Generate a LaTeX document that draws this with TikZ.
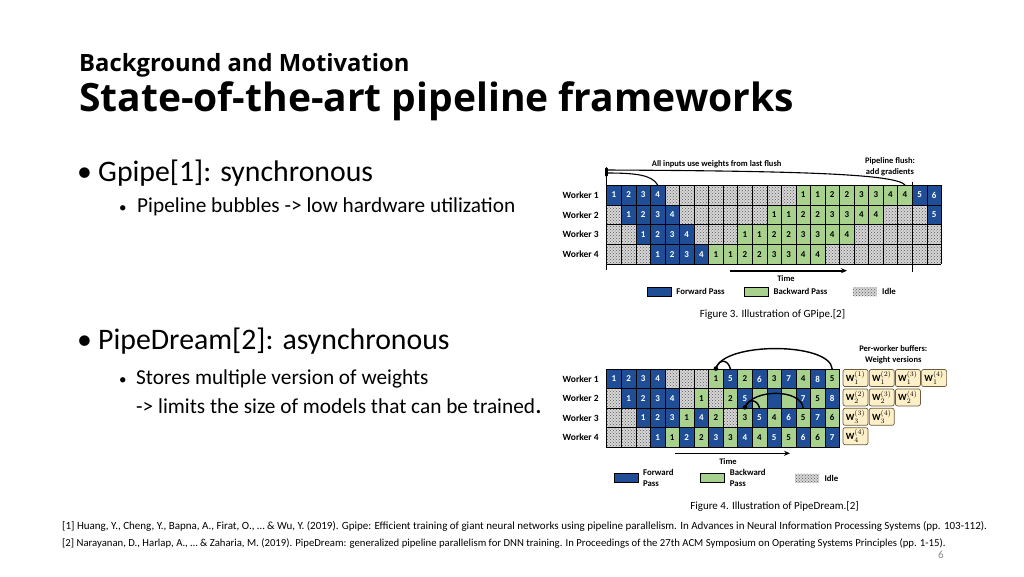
\documentclass[tikz,border=0pt]{standalone}
\usepackage{fontspec}
\setmainfont{Carlito}
\newfontfamily\headfont{Open Sans}
\usepackage{tikz}
\usetikzlibrary{positioning, arrows.meta, patterns, calc}

\definecolor{fwdblue}{HTML}{1F4E96}
\definecolor{bwdgreen}{HTML}{A9D18E}
\definecolor{idlegray}{HTML}{D6D6D6}
\definecolor{buffill}{HTML}{FDF0C9}
\definecolor{bufdraw}{HTML}{6B5B3A}
\definecolor{pagegray}{HTML}{8C8C8C}

\begin{document}
\begin{tikzpicture}[x=1pt, y=1pt,
        subhead/.style={font=\headfont\bfseries\fontsize{23.8}{28}\selectfont, inner sep=0pt, anchor=base west},
        mainhead/.style={font=\headfont\bfseries\fontsize{39}{44}\selectfont, inner sep=0pt, anchor=base west},
        bulletone/.style={font=\fontsize{29.8}{34}\selectfont, inner sep=0pt, anchor=base west},
        bullettwo/.style={font=\fontsize{21.3}{25}\selectfont, inner sep=0pt, anchor=base west},
        gcell/.style={draw=black, line width=0.5pt, minimum width=14.55pt, minimum height=19.7pt, inner sep=0pt, font=\bfseries\fontsize{9}{9}\selectfont},
        pcell/.style={gcell, minimum height=19.4pt},
        fwdcell/.style={fill=fwdblue, text=white},
        bwdcell/.style={fill=bwdgreen, text=black},
        idlecell/.style={preaction={fill=idlegray}, pattern=crosshatch dots, pattern color=black!65},
        worker/.style={font=\bfseries\fontsize{9.5}{9.5}\selectfont, inner sep=0pt, anchor=east},
        figlabel/.style={font=\bfseries\fontsize{8.5}{11}\selectfont, inner sep=0pt, align=center},
        legbox/.style={draw=black, line width=0.4pt, minimum width=24pt, minimum height=9pt, inner sep=0pt},
        legtext/.style={font=\bfseries\fontsize{8.8}{11}\selectfont, inner sep=0pt, anchor=west, align=left},
        wbox/.style={draw=bufdraw, fill=buffill, line width=0.7pt, rounded corners=2pt, minimum width=25pt, minimum height=17pt, inner sep=0pt, font=\bfseries\fontsize{9.5}{9.5}\selectfont},
        timearrow/.style={-{Stealth[length=6pt, width=5pt]}, line width=1.6pt},
        weightarc/.style={line width=1.4pt},
        flushline/.style={line width=1.1pt},
        figcaption/.style={font=\fontsize{11}{13}\selectfont, inner sep=0pt},
        reftext/.style={font=\fontsize{11}{13}\selectfont, inner sep=0pt, anchor=base west}
    ]

    \useasboundingbox (0,0) rectangle (1024,-576);
    \fill[white] (0,0) rectangle (1024,-576);

    % ============ HEADINGS ============
    \node[subhead] (subtitle) at (79,-71) {Background and Motivation};
    \node[mainhead] (title) at (79,-111) {State-of-the-art pipeline frameworks};

    % ============ BULLETS ============
    \node[bulletone] (gpipedot) at (77,-181.7) {•};
    \node[bulletone] (gpipe) at (98,-181.7) {Gpipe[1]: synchronous};
    \node[bullettwo, font=\fontsize{15}{18}\selectfont] (bubbledot) at (119,-212.7) {•};
    \node[bullettwo] (bubble) at (137,-212.7) {Pipeline bubbles -> low hardware utilization};

    \node[bulletone] (dreamdot) at (77,-349.3) {•};
    \node[bulletone] (dream) at (98,-349.3) {PipeDream[2]: asynchronous};
    \node[bullettwo, font=\fontsize{15}{18}\selectfont] (storedot) at (119,-384.3) {•};
    \node[bullettwo] (store) at (136,-384.3) {Stores multiple version of weights};
    \node[bullettwo] (limit) at (136,-413.3) {-> limits the size of models that can be trained{\fontsize{27}{30}\selectfont.}};

    % ============ GPIPE GRID ============
    \path[idlecell] (606.7,-185.15) rectangle (941.35,-263.95);
    \draw[line width=0.5pt, xstep=14.55, ystep=19.7, shift={(606.7,-185.15)}] (0,0) grid (334.66,-78.81);

    \foreach \r in {1,...,4} {
        \node[worker] (gw\r) at (599,{-195-(\r-1)*19.7}) {Worker \r};
        \foreach \k [evaluate=\k as \c using int(\r+\k-1)] in {1,...,4}
            \node[gcell, fwdcell] (g\r-\c) at ({606.7+(\c-0.5)*14.55},{-195-(\r-1)*19.7}) {\k};
        \foreach \k [evaluate=\k as \c using int(15-2*\r+\k), evaluate=\k as \m using int((\k+1)/2)] in {1,...,8}
            \node[gcell, bwdcell] (g\r-\c) at ({606.7+(\c-0.5)*14.55},{-195-(\r-1)*19.7}) {\m};
    }
    \node[gcell, fwdcell] (g1-22) at ({606.7+21.5*14.55},-195) {5};
    \node[gcell, fwdcell] (g1-23) at ({606.7+22.5*14.55},-195) {6};
    \node[gcell, fwdcell] (g2-23) at ({606.7+22.5*14.55},-214.7) {5};

    % axis, flush marker and weight lines
    \coordinate (gaxtop) at (606.7,-170);
    \coordinate (gaxbot) at (606.7,-270);
    \coordinate (gflushtop) at (912.2,-181.5);
    \coordinate (gflushbot) at (912.2,-271.5);
    \draw[flushline] (gaxtop) -- (gaxbot);
    \draw[flushline] (gflushtop) -- (gflushbot);
    \draw[line width=3pt, line cap=round] (606.7,-168.5) -- (606.7,-175.5);
    \draw[flushline] (gaxtop) .. controls (800,-171) and (895,-174) .. (g1-21.north);
    \draw[flushline] ([yshift=-3pt]gaxtop) .. controls (636,-173) and (652,-175) .. (g1-4.north);

    \node[figlabel] (gflushtxt) at (716.7,-164.5) {All inputs use weights from last flush};
    \node[figlabel] (gpipeflush) at (890,-167) {Pipeline flush:\\add gradients};

    \coordinate (gtimestart) at (730,-270.7);
    \coordinate (gtimeend) at (847,-270.7);
    \draw[timearrow] (gtimestart) -- (gtimeend);
    \node[figlabel] (gtime) at (786,-278.5) {Time};

    % legend
    \node[legbox, fill=fwdblue] (glegfwd) at (659,-291.7) {};
    \node[legtext, right=5pt of glegfwd] {Forward Pass};
    \node[legbox, fill=bwdgreen] (glegbwd) at (756.3,-291.7) {};
    \node[legtext, right=5pt of glegbwd] {Backward Pass};
    \node[legbox, idlecell, draw=none] (glegidle) at (864.8,-291.7) {};
    \node[legtext, right=5pt of glegidle] {Idle};

    \node[figcaption] (gcaption) at (772.5,-314) {Figure 3. Illustration of GPipe.[2]};

    % ============ PIPEDREAM GRID ============
    \foreach \r in {1,...,4}
        \node[worker] (pw\r) at (599,{-379-(\r-1)*19.4}) {Worker \r};

    \foreach \s/\t [count=\c] in {fwdcell/1,fwdcell/2,fwdcell/3,fwdcell/4,idlecell/,idlecell/,idlecell/,bwdcell/1,fwdcell/5,bwdcell/2,fwdcell/6,bwdcell/3,fwdcell/7,bwdcell/4,fwdcell/8,bwdcell/5}
        \node[pcell, \s] (p1-\c) at ({606.7+(\c-0.5)*14.55},-379) {\t};
    \foreach \s/\t [count=\c] in {idlecell/,fwdcell/1,fwdcell/2,fwdcell/3,fwdcell/4,idlecell/,bwdcell/1,idlecell/,bwdcell/2,fwdcell/5,bwdcell/,fwdcell/,bwdcell/,fwdcell/7,bwdcell/5,fwdcell/8}
        \node[pcell, \s] (p2-\c) at ({606.7+(\c-0.5)*14.55},-398.4) {\t};
    \foreach \s/\t [count=\c] in {idlecell/,idlecell/,fwdcell/1,fwdcell/2,fwdcell/3,bwdcell/1,fwdcell/4,bwdcell/2,idlecell/,bwdcell/3,fwdcell/5,bwdcell/4,fwdcell/6,bwdcell/5,fwdcell/7,bwdcell/6}
        \node[pcell, \s] (p3-\c) at ({606.7+(\c-0.5)*14.55},-417.8) {\t};
    \foreach \s/\t [count=\c] in {idlecell/,idlecell/,idlecell/,fwdcell/1,bwdcell/1,fwdcell/2,bwdcell/2,fwdcell/3,bwdcell/3,fwdcell/4,bwdcell/4,fwdcell/5,bwdcell/5,fwdcell/6,bwdcell/6,fwdcell/7}
        \node[pcell, \s] (p4-\c) at ({606.7+(\c-0.5)*14.55},-437.2) {\t};

    % weight version buffers
    \node[figlabel] (buftitle) at (893.3,-354.5) {Per-worker buffers:\\Weight versions};
    \foreach \r in {1,...,4}
        \foreach \v [count=\j] in {\r,...,4}
            \node[wbox] (wb\r-\v) at ({855.5+(\j-1)*26.2},{-378-(\r-1)*19.4}) {W$_{\r}^{(\v)}$};

    % weight stashing arcs
    \coordinate (pdotone) at ([yshift=0.5pt]p1-8.north);
    \coordinate (pdotthree) at ([yshift=0.5pt]p3-10.north);
    \draw[weightarc] (pdotone) .. controls +(8,27) and +(-2,27) .. (p1-16.north);
    \draw[weightarc] (pdotone) .. controls +(4,11) and +(-2,9) .. (p1-9.north);
    \draw[weightarc] (pdotthree) .. controls +(8,19) and +(-2,19) .. (p3-14.north);
    \draw[weightarc] (pdotthree) .. controls +(4,10) and +(-2,8) .. (p3-11.north);
    \fill (pdotone) circle (2.3pt);
    \fill (pdotthree) circle (2.3pt);

    \coordinate (ptimestart) at (675,-453.3);
    \coordinate (ptimeend) at (790,-453.3);
    \draw[timearrow] (ptimestart) -- (ptimeend);
    \node[figlabel] (ptime) at (728,-461.7) {Time};

    % legend
    \node[legbox, fill=fwdblue] (plegfwd) at (625.7,-478) {};
    \node[legtext, right=5pt of plegfwd] {Forward\\Pass};
    \node[legbox, fill=bwdgreen] (plegbwd) at (712.5,-478) {};
    \node[legtext, right=5pt of plegbwd] {Backward\\Pass};
    \node[legbox, idlecell, draw=none] (plegidle) at (807.2,-478) {};
    \node[legtext, right=5pt of plegidle] {Idle};

    \node[figcaption] (pcaption) at (774.5,-506.7) {Figure 4. Illustration of PipeDream.[2]};

    % ============ REFERENCES ============
    \node[reftext] (refone) at (62,-529.5) {[1] Huang, Y., Cheng, Y., Bapna, A., Firat, O., … \& Wu, Y. (2019). Gpipe: Efficient training of giant neural networks using pipeline parallelism. In Advances in Neural Information Processing Systems (pp. 103-112).};
    \node[reftext, font=\fontsize{10.7}{13}\selectfont] (reftwo) at (62,-546.5) {[2] Narayanan, D., Harlap, A., … \& Zaharia, M. (2019). PipeDream: generalized pipeline parallelism for DNN training. In Proceedings of the 27th ACM Symposium on Operating Systems Principles (pp. 1-15).};
    \node[font=\fontsize{11}{13}\selectfont, text=pagegray, inner sep=0pt] (pagenum) at (941,-555) {6};

\end{tikzpicture}
\end{document}
